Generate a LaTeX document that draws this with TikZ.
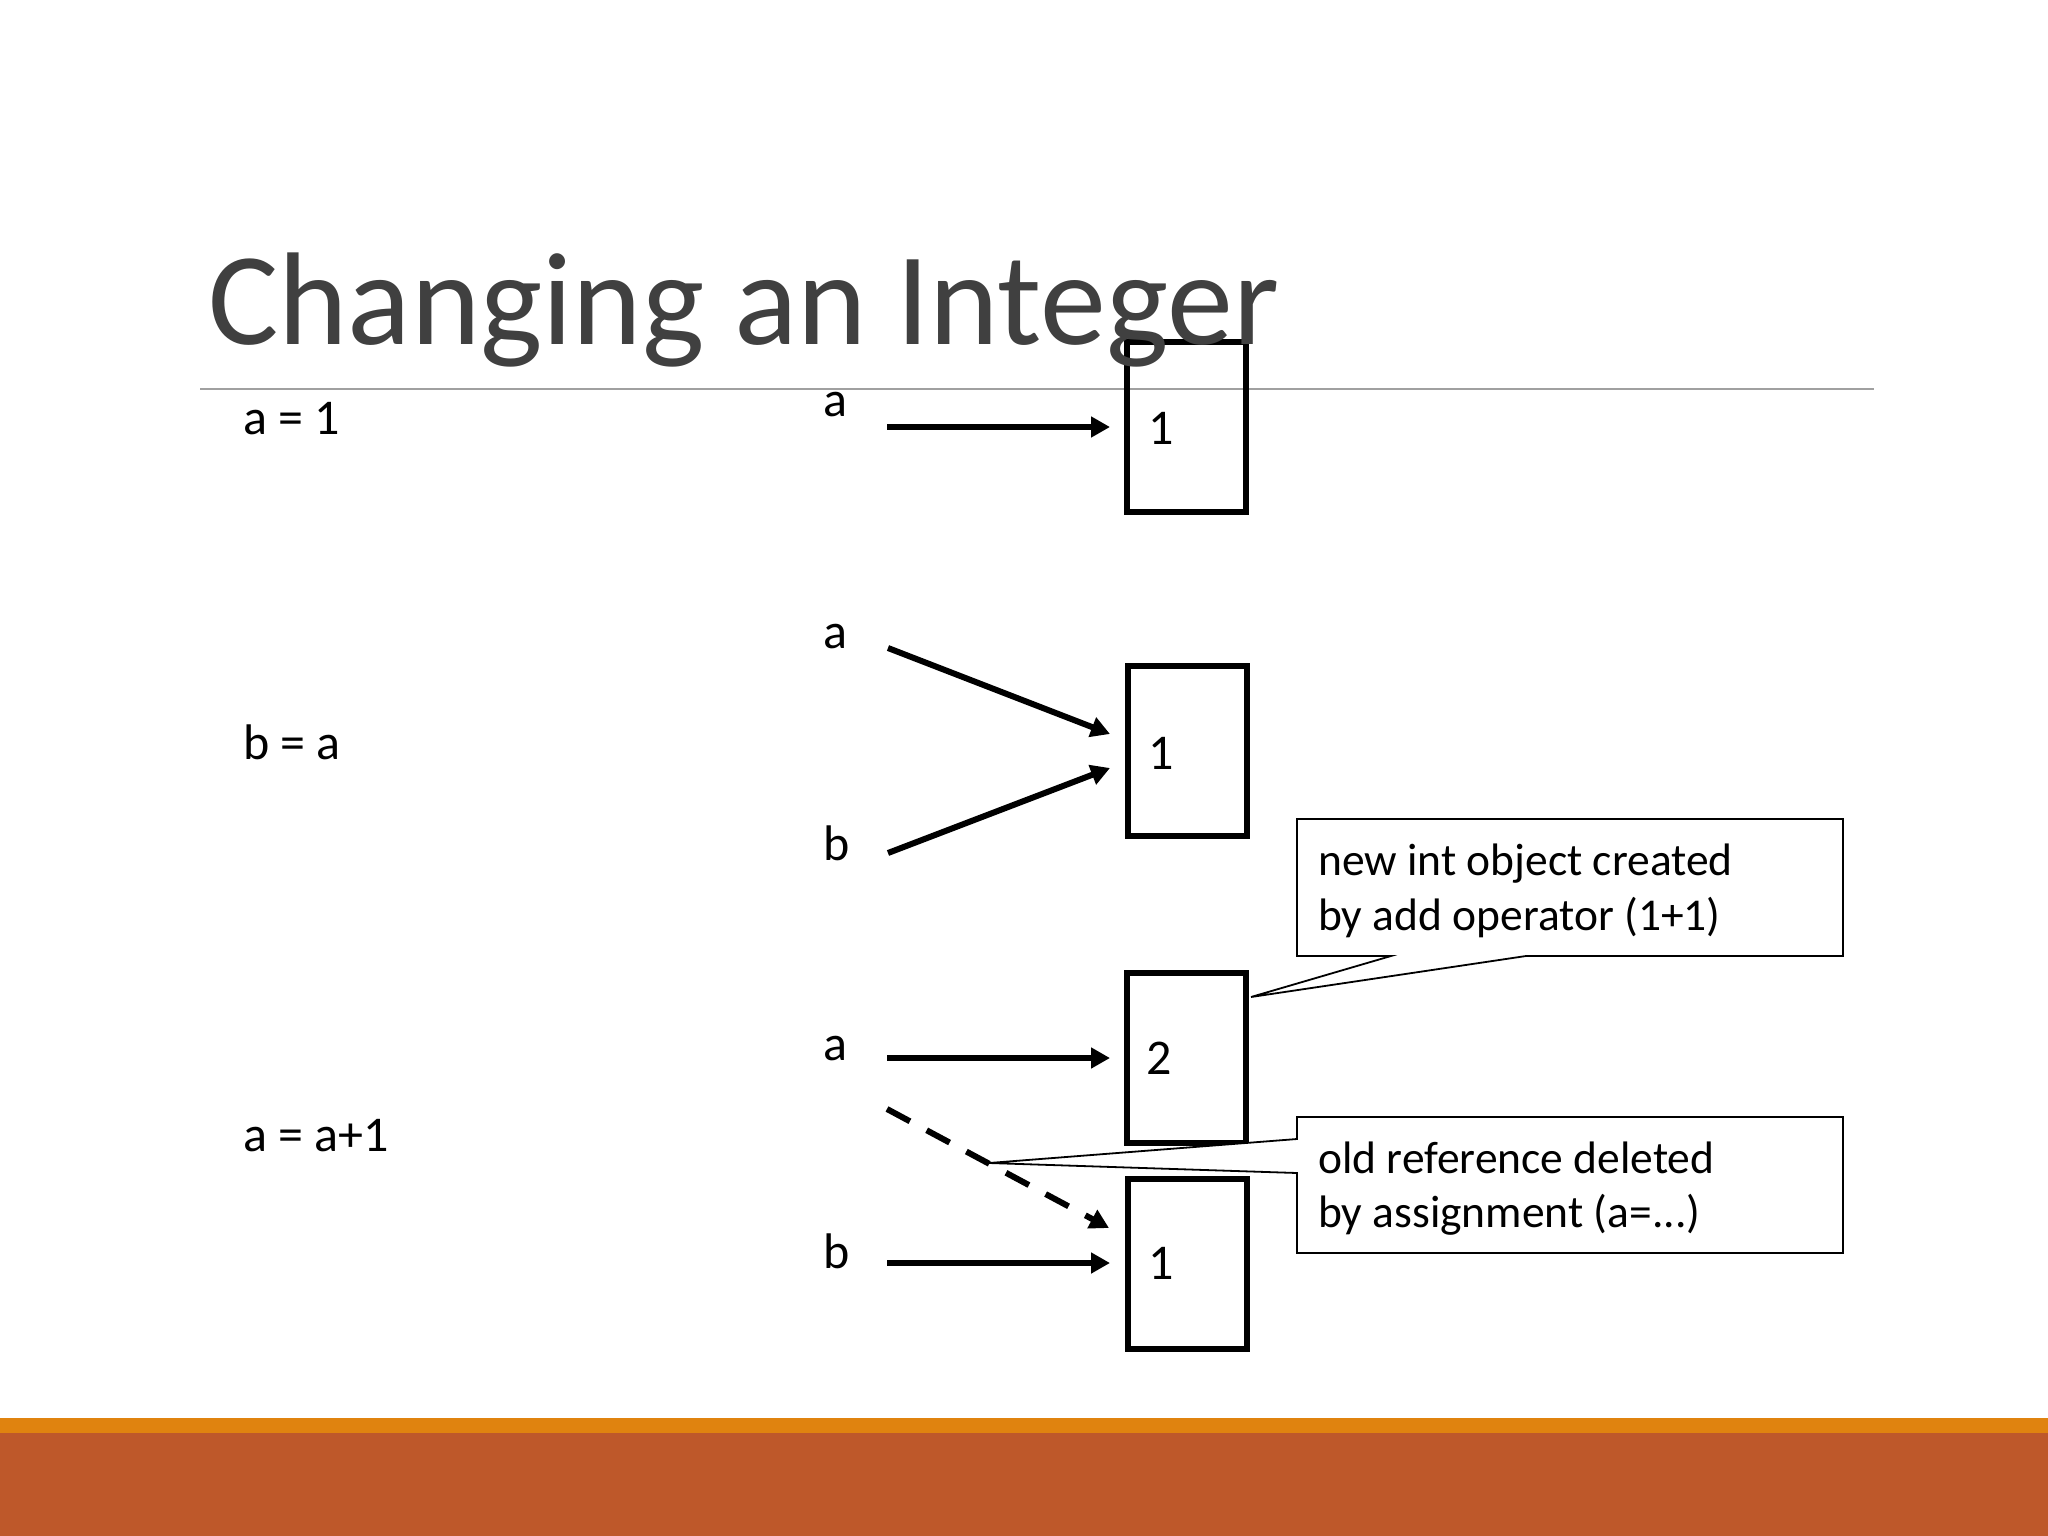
\documentclass[tikz,border=0pt]{standalone}
\usepackage{fontspec}
\setmainfont{Carlito}
\usetikzlibrary{arrows.meta}
\definecolor{titlegray}{HTML}{404040}
\definecolor{rulegray}{HTML}{A0A0A0}
\definecolor{barorange}{HTML}{E0830F}
\definecolor{barbrown}{HTML}{BE582A}
\begin{document}
\begin{tikzpicture}[x=1pt,y=-1pt,
  txt/.style={anchor=base west,inner sep=0pt,font=\fontsize{50}{60}\selectfont},
  ctxt/.style={anchor=base west,inner sep=0pt,font=\fontsize{45.5}{55}\selectfont},
  objbox/.style={draw,line width=6pt,minimum width=119pt,minimum height=170pt,inner sep=0pt},
  refline/.style={line width=6pt,-{Triangle[length=19pt,width=20pt]}},
  deadref/.style={refline,dash pattern=on 26pt off 19pt},
  calloutbox/.style={draw,line width=1.8pt,fill=white,line join=miter}]
\useasboundingbox (0,0) rectangle (2048,1536);
\fill[white] (0,0) rectangle (2048,1536);
% bottom bar
\fill[barorange] (0,1418) rectangle (2048,1434);
\fill[barbrown] (0,1433) rectangle (2048,1536);
% rule under title
\draw[rulegray,line width=1.5pt] (200,389) -- (1874,389);

% left code lines
\node[txt] (c1) at (243,434) {a = 1};
\node[txt] (c2) at (243,759) {b = a};
\node[txt] (c3) at (243,1151) {a = a+1};

% objects
\node[objbox] (b1) at (1186.5,426.5) {};
\node[objbox] (b2) at (1187.5,751) {};
\node[objbox] (b3) at (1186.5,1058) {};
\node[objbox] (b4) at (1187.5,1263.5) {};
\node[txt] (n1) at (1148,444) {1};
\node[txt] (n2) at (1148,769) {1};
\node[txt] (n3) at (1146,1074) {2};
\node[txt] (n4) at (1148,1279) {1};

% variable labels
\node[txt] (la1) at (823,416) {a};
\node[txt] (la2) at (823,648) {a};
\node[txt] (lb2) at (823,860) {b};
\node[txt] (la3) at (823,1060) {a};
\node[txt] (lb3) at (823,1268) {b};

% reference arrows
\coordinate (s1) at (887,427);  \coordinate (t1) at (1110,427);
\coordinate (s2) at (888,648);  \coordinate (t2) at (1110,734);
\coordinate (s3) at (888,853);  \coordinate (t3) at (1110,768);
\coordinate (s4) at (887,1058); \coordinate (t4) at (1110,1058);
\coordinate (s5) at (887,1109); \coordinate (t5) at (1109,1228);
\coordinate (s6) at (887,1263); \coordinate (t6) at (1110,1263);
\draw[refline] (s1) -- (t1);
\draw[refline] (s2) -- (t2);
\draw[refline] (s3) -- (t3);
\draw[refline] (s4) -- (t4);
\draw[deadref] (s5) -- (t5);
\draw[refline] (s6) -- (t6);

% callout 1
\coordinate (p1) at (1251,997);
\draw[calloutbox] (1297,819) -- (1843,819) -- (1843,956) -- (1526,956) -- (p1) -- (1391,956) -- (1297,956) -- cycle;
\node[ctxt] (k1) at (1318,875) {new int object created};
\node[ctxt] (k2) at (1318,930) {by add operator (1+1)};
% callout 2
\coordinate (p2) at (989,1163);
\draw[calloutbox] (1297,1117) -- (1843,1117) -- (1843,1253) -- (1297,1253) -- (1297,1173) -- (p2) -- (1297,1139) -- cycle;
\node[ctxt] (k3) at (1318,1173) {old reference deleted};
\node[ctxt] (k4) at (1318,1227) {by assignment (a=...)};

% title
\node[anchor=base west,inner sep=0pt,text=titlegray,font=\fontsize{132}{150}\selectfont] (title) at (208,344) {Changing an Integer};
\end{tikzpicture}
\end{document}
